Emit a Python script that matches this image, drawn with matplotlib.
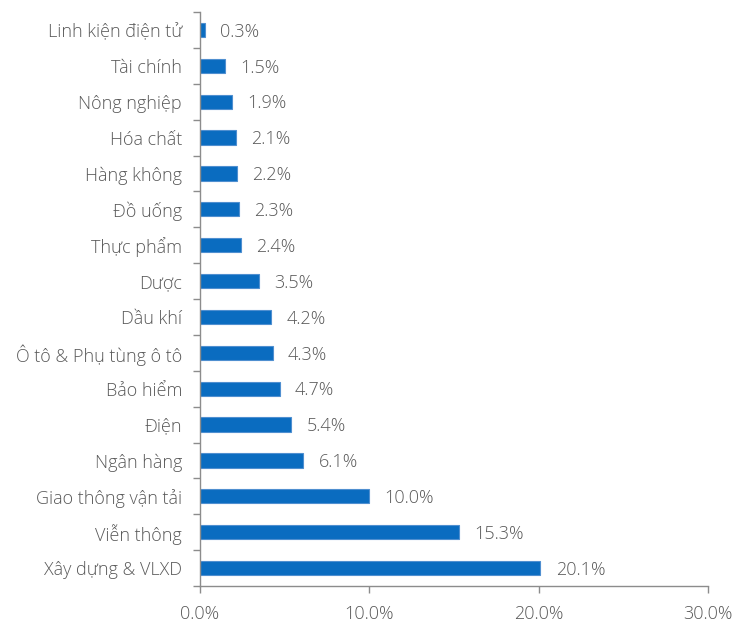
import matplotlib
matplotlib.use("Agg")
import matplotlib.pyplot as plt
from matplotlib.ticker import FixedLocator
import numpy as np

categories = ["Linh kiện điện tử", "Tài chính", "Nông nghiệp", "Hóa chất", "Hàng không",
              "Đồ uống", "Thực phẩm", "Dược", "Dầu khí", "Ô tô & Phụ tùng ô tô",
              "Bảo hiểm", "Điện", "Ngân hàng", "Giao thông vận tải", "Viễn thông",
              "Xây dựng & VLXD"]
values = [0.3, 1.5, 1.9, 2.1, 2.2, 2.3, 2.4, 3.5, 4.2, 4.3, 4.7, 5.4, 6.1, 10.0, 15.3, 20.1]
xticks = [0, 10, 20, 30]

plt.rcParams['font.family'] = ['Open Sans', 'DejaVu Sans']
txt = '#595959'
spine = '#8c8c8c'
fs = 13

fig = plt.figure(figsize=(7.36, 6.23), dpi=100)
ax = fig.add_axes([200/736, 37/623, 508/736, 574/623])

y = np.arange(len(categories))
ax.barh(y, values, height=0.4, color='#0a6cc0', edgecolor='#4f8fd0', linewidth=0.8)
ax.set_ylim(len(categories) - 0.5, -0.5)
ax.set_xlim(0, 30)
ax.set_yticks(y)
ax.set_yticklabels(categories, fontsize=fs, color=txt, fontweight='light')
ax.yaxis.set_minor_locator(FixedLocator(np.arange(-0.5, len(categories), 1)))
ax.tick_params(axis='y', which='major', length=0, pad=13)
ax.tick_params(axis='y', which='minor', length=5, color=spine, width=1)
ax.set_xticks(xticks)
ax.set_xticklabels([f"{t:.1f}%" for t in xticks], fontsize=fs, color=txt, fontweight='light')
ax.tick_params(axis='x', length=5, color=spine, width=1, pad=9)

for s in ['top', 'right']:
    ax.spines[s].set_visible(False)
for s in ['left', 'bottom']:
    ax.spines[s].set_color(spine)
    ax.spines[s].set_linewidth(1)

for yi, v in zip(y, values):
    ax.text(v + 0.9, yi + 0.05, f"{v:.1f}%", va='center', ha='left', fontsize=fs, color=txt, fontweight='light')

fig.savefig("out.png", dpi=100)
